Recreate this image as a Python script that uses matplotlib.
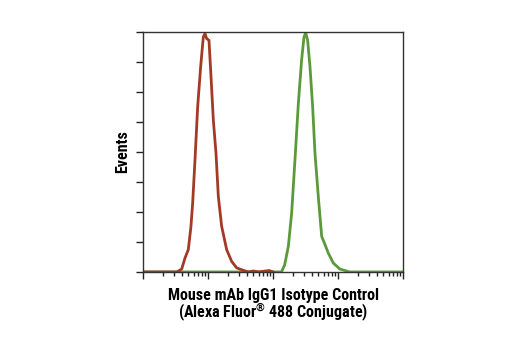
import numpy as np
import matplotlib.pyplot as plt

# log10 of fluorescence intensity, and relative events
rojo_log = [0.0, 0.52, 0.595, 0.646, 0.697, 0.738, 0.764, 0.80, 0.841, 0.887,
            0.928, 0.954, 0.979, 1.015, 1.041, 1.082, 1.123, 1.159, 1.21,
            1.287, 1.364, 1.441, 1.54, 1.62, 1.70, 1.78, 1.86, 1.94, 2.0]
rojo_ev = [0.0, 0.0, 0.012, 0.058, 0.093, 0.19, 0.287, 0.467, 0.688, 0.855,
           0.979, 0.993, 0.972, 0.965, 0.84, 0.633, 0.494, 0.314, 0.19,
           0.093, 0.044, 0.017, 0.007, 0.0, 0.004, 0.0, 0.003, 0.006, 0.0]

verde_log = [0.0, 2.13, 2.18, 2.236, 2.287, 2.338, 2.39, 2.44, 2.477, 2.503,
             2.533, 2.569, 2.61, 2.646, 2.697, 2.749, 2.80, 2.85, 2.928,
             3.03, 3.18, 4.0]
verde_ev = [0.0, 0.0, 0.03, 0.107, 0.245, 0.467, 0.702, 0.882, 0.979, 0.996,
            0.965, 0.855, 0.688, 0.494, 0.314, 0.148, 0.114, 0.079, 0.037,
            0.012, 0.0, 0.0]

color_rojo = "#a33a26"
color_verde = "#5b9a3a"

plt.rcParams['font.family'] = ['Roboto Condensed', 'DejaVu Sans Condensed',
                               'Liberation Sans Narrow', 'Liberation Sans', 'DejaVu Sans']

fig = plt.figure(figsize=(5.2, 3.5), dpi=100)
ax = fig.add_axes([0.275, 0.223, 0.5, 0.686])

ax.plot(10 ** np.array(verde_log), verde_ev, color=color_verde, lw=2)
ax.plot(10 ** np.array(rojo_log), rojo_ev, color=color_rojo, lw=2)

ax.set_xscale("log")
ax.set_xlim(1, 1e4)
ax.set_ylim(0, 1.0)
ax.set_yticks(np.arange(0, 1.01, 0.125))
ax.set_yticklabels([])
ax.xaxis.set_major_locator(plt.LogLocator(base=10, numticks=10))
ax.xaxis.set_minor_locator(plt.LogLocator(base=10, subs=np.arange(2, 10), numticks=20))
ax.xaxis.set_major_formatter(plt.NullFormatter())
ax.xaxis.set_minor_formatter(plt.NullFormatter())
ax.tick_params(axis="both", which="major", length=5, width=1, color="#222222")
ax.tick_params(axis="x", which="minor", length=3, width=1, color="#222222")

for s in ax.spines.values():
    s.set_color("#333333")
    s.set_linewidth(1)

ax.set_ylabel("Events", fontsize=11.5, fontweight="bold", labelpad=1)
ax.set_xlabel("Mouse mAb IgG1 Isotype Control\n(Alexa Fluor$^{\\mathregular{®}}$ 488 Conjugate)",
              fontsize=11.5, fontweight="bold", labelpad=3, linespacing=0.95)

fig.savefig("out.png", dpi=100)
